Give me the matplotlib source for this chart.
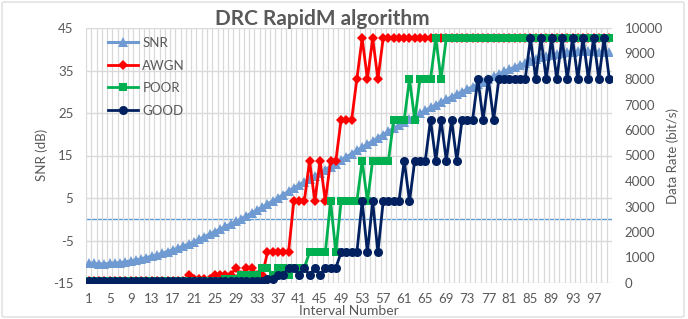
import matplotlib
matplotlib.use('Agg')
import matplotlib.pyplot as plt
from matplotlib.patches import FancyBboxPatch
import numpy as np

intervals = list(range(1, 101))

snr = [-10.3, -10.4, -10.5, -10.5, -10.4, -10.3, -10.2, -10.0, -9.8, -9.6,
       -9.3, -9.0, -8.7, -8.4, -8.0, -7.6, -7.2, -6.8, -6.3, -5.8,
       -5.3, -4.7, -4.1, -3.5, -2.9, -2.3, -1.7, -1.1, -0.5, 0.1,
       0.8, 1.5, 2.2, 2.9, 3.6, 4.3, 5.0, 5.8, 6.6, 7.4,
       8.1, 8.8, 9.5, 10.2, 10.9, 11.7, 12.4, 13.1, 13.9, 14.7,
       15.4, 16.2, 16.9, 17.7, 18.4, 19.2, 19.9, 20.7, 21.4, 22.1,
       22.8, 23.5, 24.2, 24.9, 25.6, 26.3, 26.9, 27.6, 28.2, 28.8,
       29.4, 30.0, 30.6, 31.2, 31.8, 32.4, 33.0, 33.6, 34.2, 34.8,
       35.3, 35.8, 36.3, 36.8, 37.3, 37.7, 38.1, 38.4, 38.7, 38.9,
       39.1, 39.3, 39.4, 39.5, 39.5, 39.5, 39.5, 39.4, 39.4, 39.3]

awgn = [75, 75, 75, 75, 75, 75, 75, 75, 75, 75,
        75, 75, 75, 75, 75, 75, 75, 75, 75, 300,
        150, 150, 150, 150, 300, 300, 300, 300, 600, 300,
        600, 600, 300, 300, 1200, 1200, 1200, 1200, 1200, 3200,
        3200, 3200, 4800, 3200, 4800, 3200, 4800, 4800, 6400, 6400,
        6400, 8000, 9600, 8000, 9600, 8000, 9600, 9600, 9600, 9600,
        9600, 9600, 9600, 9600, 9600, 9600, 9600, 9600, 9600, 9600,
        9600, 9600, 9600, 9600, 9600, 9600, 9600, 9600, 9600, 9600,
        9600, 9600, 9600, 9600, 9600, 9600, 9600, 9600, 9600, 9600,
        9600, 9600, 9600, 9600, 9600, 9600, 9600, 9600, 9600, 9600]

poor = [75, 75, 75, 75, 75, 75, 75, 75, 75, 75,
        75, 75, 75, 75, 75, 75, 75, 75, 75, 75,
        75, 75, 75, 75, 75, 75, 150, 150, 150, 300,
        300, 300, 300, 600, 600, 300, 600, 600, 300, 600,
        600, 600, 1200, 1200, 1200, 1200, 3200, 1200, 3200, 3200,
        3200, 3200, 4800, 3200, 4800, 4800, 4800, 4800, 6400, 6400,
        6400, 8000, 6400, 8000, 8000, 8000, 9600, 8000, 9600, 9600,
        9600, 9600, 9600, 9600, 9600, 9600, 9600, 9600, 9600, 9600,
        9600, 9600, 9600, 9600, 9600, 9600, 9600, 9600, 9600, 9600,
        9600, 9600, 9600, 9600, 9600, 9600, 9600, 9600, 9600, 9600]

good = [75, 75, 75, 75, 75, 75, 75, 75, 75, 75,
        75, 75, 75, 75, 75, 75, 75, 75, 75, 75,
        75, 75, 75, 75, 75, 75, 75, 75, 75, 75,
        75, 75, 75, 75, 150, 150, 300, 300, 600, 600,
        300, 600, 300, 600, 300, 600, 600, 600, 1200, 1200,
        1200, 1200, 3200, 1200, 3200, 1200, 3200, 3200, 3200, 3200,
        4800, 3200, 4800, 4800, 4800, 6400, 4800, 6400, 4800, 6400,
        4800, 6400, 6400, 6400, 8000, 6400, 8000, 6400, 8000, 8000,
        8000, 8000, 8000, 8000, 9600, 8000, 9600, 8000, 9600, 8000,
        9600, 8000, 9600, 8000, 9600, 8000, 9600, 8000, 9600, 8000]

xtick_values = list(range(1, 101, 4))
xtick_labels = [str(v) for v in xtick_values]
left_ticks = [-15, -5, 5, 15, 25, 35, 45]
right_ticks = [0, 1000, 2000, 3000, 4000, 5000, 6000, 7000, 8000, 9000, 10000]

C_SNR = '#6f9bd2'
C_AWGN = '#ff0000'
C_POOR = '#00b050'
C_GOOD = '#002060'
C_TXT = '#595959'
C_GRID = '#d9d9d9'

plt.rcParams['font.family'] = ['Lato', 'DejaVu Sans']
plt.rcParams['axes.unicode_minus'] = False

W, H = 688, 319
fig = plt.figure(figsize=(W / 100, H / 100), dpi=100)
fig.patch.set_facecolor('white')
L, R, T, B = 86, 612, 28, 283
ax = fig.add_axes([L / W, 1 - B / H, (R - L) / W, (B - T) / H])
ax2 = ax.twinx()

# primary axis
ax.set_xlim(0.5, 100.5)
ax.set_ylim(-15, 45)
ax.set_yticks(left_ticks)
ax.set_xticks(xtick_values)
ax.set_xticklabels(xtick_labels)
ax.set_xticks(np.arange(0.5, 101, 1), minor=True)
ax.grid(axis='y', which='major', color=C_GRID, lw=1.0, zorder=0)
ax.grid(axis='x', which='minor', color=C_GRID, lw=0.9, zorder=0)
ax.grid(axis='x', which='major', visible=False)
for s in ax.spines.values():
    s.set_visible(False)
for s in ax2.spines.values():
    s.set_visible(False)
ax.tick_params(axis='both', which='both', length=0, colors=C_TXT, labelsize=9.5)
ax.tick_params(axis='y', pad=9)
ax.tick_params(axis='x', pad=7)
ax.axhline(0, color='#5b9bd5', lw=1.0, zorder=1)

l_snr, = ax.plot(intervals, snr, color=C_SNR, lw=2.2, marker='^', ms=6.5,
                 markeredgewidth=0, zorder=3, label='SNR')

# secondary axis
ax2.set_ylim(0, 10000)
ax2.set_yticks(right_ticks)
ax2.tick_params(axis='y', length=0, colors=C_TXT, labelsize=9.5, pad=9)
l_awgn, = ax2.plot(intervals, awgn, color=C_AWGN, lw=2.0, marker='D', ms=5.5,
                   markeredgewidth=0, label='AWGN', zorder=3)
l_poor, = ax2.plot(intervals, poor, color=C_POOR, lw=2.0, marker='s', ms=6,
                   markeredgewidth=0, label='POOR', zorder=4)
l_good, = ax2.plot(intervals, good, color=C_GOOD, lw=2.0, marker='o', ms=6.5,
                   markeredgewidth=0, label='GOOD', zorder=5)

leg = ax2.legend(handles=[l_snr, l_awgn, l_poor, l_good], loc='upper left',
                 bbox_to_anchor=(108 / W, 1 - 37 / H), bbox_transform=fig.transFigure,
                 frameon=False, fontsize=9.5, handlelength=2.3, handletextpad=0.3,
                 labelspacing=0.8, borderpad=0, borderaxespad=0)
for t in leg.get_texts():
    t.set_color(C_TXT)

fig.text(322 / W, 1 - 19 / H, 'DRC RapidM algorithm', ha='center', va='center',
         fontsize=15, fontweight='bold', color=C_TXT)
fig.text(42 / W, 1 - 155 / H, 'SNR (dB)', rotation=90, ha='center', va='center',
         fontsize=9.5, color=C_TXT)
fig.text(673 / W, 1 - 156 / H, 'Data Rate (bit/s)', rotation=90, ha='center',
         va='center', fontsize=9.5, color=C_TXT)
fig.text(349 / W, 1 - 311 / H, 'Interval Number', ha='center', va='center',
         fontsize=10, color=C_TXT)

border = FancyBboxPatch((2 / W, 2 / H), 682 / W, 315 / H,
                        boxstyle='round,pad=0,rounding_size=0.004',
                        transform=fig.transFigure, fill=False,
                        edgecolor=C_GRID, lw=0.9)
fig.patches.append(border)

fig.savefig('out.png', dpi=100, facecolor='white')
